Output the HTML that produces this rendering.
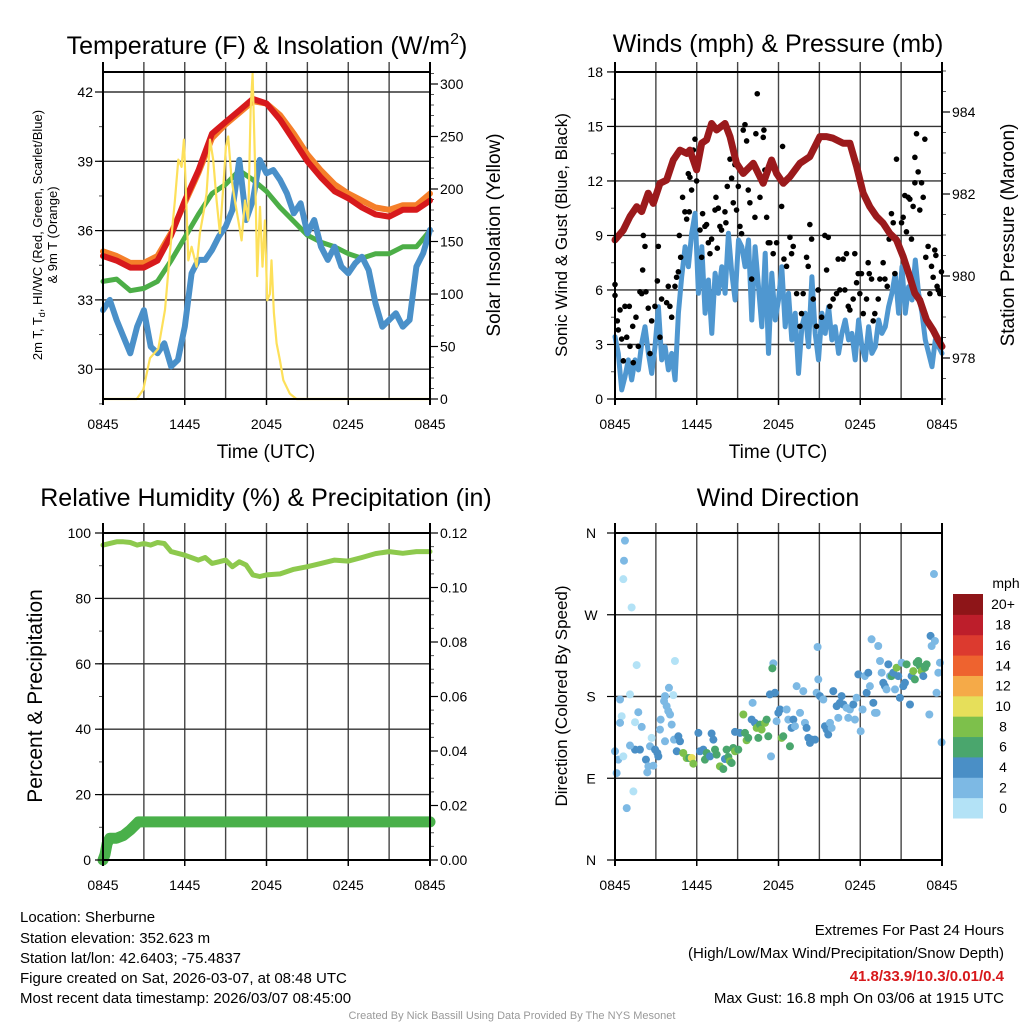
<!DOCTYPE html>
<html><head><meta charset="utf-8"><style>
html,body{margin:0;padding:0;background:#fff;}
svg{display:block;font-family:"Liberation Sans",Arial,sans-serif;}
</style></head><body>
<svg id="chart" width="1024" height="1024" viewBox="0 0 1024 1024" xmlns="http://www.w3.org/2000/svg">
<rect x="0" y="0" width="1024" height="1024" fill="#fff"/>
<text x="267" y="54" font-size="25" text-anchor="middle">Temperature (F) &amp; Insolation (W/m<tspan dy="-10" font-size="16">2</tspan><tspan dy="10">)</tspan></text>
<text x="778" y="52" font-size="25" text-anchor="middle">Winds (mph) &amp; Pressure (mb)</text>
<text x="266" y="506" font-size="25" text-anchor="middle">Relative Humidity (%) &amp; Precipitation (in)</text>
<text x="778" y="506" font-size="25" text-anchor="middle">Wind Direction</text>
<g font-size="13">
<text transform="translate(42,235) rotate(-90)" text-anchor="middle">2m T, T<tspan font-size="9" dy="3">d</tspan><tspan dy="-3">, HI/WC (Red, Green, Scarlet/Blue)</tspan></text>
<text transform="translate(57,235) rotate(-90)" text-anchor="middle">&amp; 9m T (Orange)</text>
</g>
<text transform="translate(500,235) rotate(-90)" font-size="19" text-anchor="middle">Solar Insolation (Yellow)</text>
<text transform="translate(567,235) rotate(-90)" font-size="17" text-anchor="middle">Sonic Wind &amp; Gust (Blue, Black)</text>
<text transform="translate(1014,235) rotate(-90)" font-size="19" text-anchor="middle">Station Pressure (Maroon)</text>
<text transform="translate(42,696) rotate(-90)" font-size="21" text-anchor="middle">Percent &amp; Precipitation</text>
<text transform="translate(567,696) rotate(-90)" font-size="17" text-anchor="middle">Direction (Colored By Speed)</text>
<text x="266" y="458" font-size="19" text-anchor="middle">Time (UTC)</text>
<text x="778" y="458" font-size="19" text-anchor="middle">Time (UTC)</text>
<g font-size="15">
<text x="20" y="922">Location: Sherburne</text>
<text x="20" y="943">Station elevation: 352.623 m</text>
<text x="20" y="963">Station lat/lon: 42.6403; -75.4837</text>
<text x="20" y="983">Figure created on Sat, 2026-03-07, at 08:48 UTC</text>
<text x="20" y="1003">Most recent data timestamp: 2026/03/07 08:45:00</text>
</g>
<g font-size="15" text-anchor="end">
<text x="1004" y="935">Extremes For Past 24 Hours</text>
<text x="1004" y="958">(High/Low/Max Wind/Precipitation/Snow Depth)</text>
<text x="1004" y="981" fill="#d7191c" font-weight="bold">41.8/33.9/10.3/0.01/0.4</text>
<text x="1004" y="1003">Max Gust: 16.8 mph On 03/06 at 1915 UTC</text>
</g>
<text x="512" y="1019" font-size="11" fill="#999" text-anchor="middle">Created By Nick Bassill Using Data Provided By The NYS Mesonet</text>
</svg>
<script>
// ---------- Data ----------
const xTickLabels = ["0845","1445","2045","0245","0845"];
const tempHours = [0,1,2,3,4,5,6,7,8,9,10,11,12,13,14,15,16,17,18,19,20,21,22,23,24];
const airTemp2m = [34.9,34.7,34.4,34.4,34.7,35.8,37.3,38.6,40.2,40.7,41.2,41.7,41.5,40.8,39.9,39.0,38.3,37.7,37.4,37.0,36.7,36.6,36.9,36.9,37.3];
const airTemp9m = [35.1,34.9,34.6,34.6,34.9,35.9,37.2,38.5,40.0,40.6,41.1,41.6,41.5,41.0,40.2,39.3,38.6,38.0,37.6,37.3,37.0,36.9,37.1,37.1,37.6];
const dewPoint = [33.8,33.9,33.4,33.5,33.8,34.7,35.7,36.7,37.6,38.0,38.6,38.2,37.7,37.0,36.4,35.8,35.5,35.3,35.0,34.8,35.0,35.0,35.3,35.3,36.0];
const windChill = [32.56,33.0,32.13,31.41,30.69,31.84,32.56,30.98,30.69,31.12,30.12,30.40,31.84,34.15,34.73,34.73,35.16,35.74,36.17,36.89,39.06,36.46,37.32,39.06,38.48,38.62,38.19,37.61,36.75,37.18,35.88,36.46,35.30,34.73,35.30,34.44,34.15,34.58,34.87,34.29,32.85,31.84,32.13,32.42,31.84,32.13,34.44,35.02,36.03];
const solarHours = [0,2.47,2.96,3.45,4.06,4.55,4.91,5.28,5.53,5.77,5.94,6.09,6.26,6.50,6.87,7.11,7.41,7.60,7.85,8.09,8.34,8.58,8.83,9.02,9.19,9.44,9.68,9.93,10.17,10.42,10.66,10.83,10.98,11.15,11.32,11.52,11.71,11.88,12.05,12.25,12.37,12.54,12.74,12.98,13.23,13.72,14.2,24];
const solarValues = [0,0,9,39,48,85,139,189,228,221,247,196,132,145,126,158,180,196,247,228,189,158,202,240,250,209,189,170,151,189,170,275,310,228,117,183,126,170,94,100,132,82,53,37,18,5,0,0];
const tempTicks = [30,33,36,39,42];
const solarTicks = [0,50,100,150,200,250,300];

const pressureHours = [0,0.61,1.10,1.59,1.96,2.44,2.81,3.30,3.79,4.28,4.77,5.26,5.50,5.99,6.36,6.72,7.09,7.46,8.07,8.44,8.92,9.41,10.15,10.88,11.49,11.86,12.35,12.84,13.57,14.30,15.04,15.53,16.01,16.75,17.24,17.73,18.22,18.70,19.19,19.68,20.17,20.66,21.15,21.64,22.00,22.37,22.86,23.35,23.72,24.0];
const pressureValues = [980.88,981.12,981.45,981.69,981.57,982.02,981.77,982.26,982.34,982.83,983.07,982.99,983.07,982.59,983.24,983.32,983.72,983.56,983.72,983.40,982.75,982.50,982.75,982.26,982.83,982.50,982.26,982.42,982.75,982.91,983.40,983.40,983.36,983.24,983.24,982.67,982.02,981.69,981.45,981.29,981.04,980.88,980.47,979.98,979.58,979.41,978.93,978.68,978.44,978.28];
const windSpeed = [3.43,2.51,0.50,1.23,2.15,1.05,2.15,1.60,3.06,3.98,2.51,1.41,2.88,5.08,2.15,2.88,1.60,2.51,1.05,4.72,6.73,8.38,7.28,9.12,10.22,5.82,8.38,4.72,6.55,3.61,6.92,5.82,7.28,5.82,9.12,6.92,5.45,8.75,8.38,7.28,8.75,4.35,8.38,6.18,3.98,8.02,2.51,6.92,4.35,5.45,7.28,3.98,5.82,3.25,4.72,1.41,3.98,4.72,2.88,6.73,3.61,2.15,4.72,3.61,5.08,3.25,3.98,2.51,3.61,4.35,3.25,3.61,2.15,4.35,2.88,2.15,3.98,2.51,2.88,4.35,3.61,3.98,5.08,5.82,6.92,4.72,7.28,4.72,6.18,5.45,7.65,5.82,4.72,3.25,2.51,1.78,3.25,2.88,2.51];
const gustHours = [0,0,0.17,0.24,0.37,0.49,0.61,0.73,0.86,1.05,1.10,1.30,1.34,1.54,1.71,1.83,1.96,2.03,2.08,2.20,2.27,2.44,2.57,2.69,2.93,3.11,3.18,3.30,3.42,3.79,3.91,4.03,4.16,4.40,4.52,4.65,4.72,4.82,4.96,5.13,5.26,5.38,5.45,5.50,5.62,5.75,5.87,5.99,6.24,6.36,6.43,6.60,6.72,6.85,6.97,7.09,7.34,7.41,7.51,7.58,7.70,7.82,8.07,8.14,8.24,8.44,8.56,8.68,8.80,8.92,9.05,9.17,9.29,9.41,9.54,9.66,9.78,9.90,10.03,10.27,10.34,10.44,10.64,10.88,10.93,11.00,11.13,11.25,11.37,11.61,11.86,12.23,12.30,12.40,12.59,12.84,12.96,13.08,13.33,13.57,13.69,13.81,14.06,14.18,14.30,14.43,14.55,14.79,14.91,15.16,15.40,15.53,15.65,15.77,16.01,16.26,16.38,16.50,16.75,16.87,16.99,17.12,17.24,17.48,17.60,17.73,17.85,17.97,18.09,18.22,18.46,18.58,18.66,18.83,18.95,19.07,19.32,19.44,19.68,19.81,19.98,20.12,20.29,20.42,20.54,20.66,21.03,21.15,21.27,21.39,21.52,21.64,21.76,21.88,22.01,22.01,22.13,22.25,22.37,22.50,22.62,22.74,22.81,22.98,23.11,23.23,23.35,23.47,23.55,23.64,23.72,23.84,23.96];
const gustSpeed = [6.3,5.7,4.3,3.8,4.9,3.3,2.1,5.1,3.4,5.1,2.9,4.0,2.0,4.5,2.9,5.9,5.8,7.1,9.0,8.4,5.9,5.0,2.5,4.3,5.1,6.5,8.4,3.4,5.5,5.3,6.2,5.1,4.5,6.2,6.7,7.0,9.0,7.8,11.1,10.3,9.9,12.4,10.3,12.2,11.5,13.7,14.3,12.0,9.3,7.8,10.2,9.5,9.6,8.6,8.0,8.8,10.4,11.1,8.3,10.5,9.5,9.3,10.3,9.7,11.7,13.2,12.15,10.8,12.9,10.4,11.7,9.5,9.1,14.8,15.1,14.2,11.5,10.8,6.6,10.0,14.6,16.8,11.1,14.4,14.8,12.6,10.0,8.6,8.6,8.0,8.6,10.6,13.9,7.7,7.3,8.9,8.0,8.4,5.8,4.0,4.7,5.8,7.8,7.3,9.6,8.8,5.5,4.0,6.0,4.5,9.0,7.1,8.9,5.1,5.5,5.8,7.7,6.0,7.7,6.0,8.0,5.1,4.9,5.5,8.0,6.4,6.9,5.8,6.9,4.7,5.5,7.5,6.9,6.6,4.3,4.7,5.5,6.6,7.5,6.6,6.2,8.8,10.2,9.7,6.9,13.2,9.7,10.0,11.2,9.2,11.1,11.0,8.8,10.6,13.3,11.9,14.6,12.5,10.4,11.9,11.1,14.3,7.8,8.4,5.8,7.3,6.7,8.2,7.9,6.2,6.0,5.8,7.0];
const windTicks = [0,3,6,9,12,15,18];
const pressureTicks = [978,980,982,984];

const rhHours = [0,1,1.5,2,2.5,3,3.5,4,4.5,5,6,7,7.5,8,8.5,9,9.5,10,10.5,11,11.5,12,13,14,15,16,17,18,19,20,21,22,23,24];
const rhValues = [96.3,97.3,97.3,97.1,96.3,96.8,96.3,97.1,96.8,94.3,93.2,91.7,92.5,90.7,91.2,91.7,89.7,91.2,90.2,87.2,86.7,87.2,87.5,88.9,89.7,90.7,91.7,91.4,92.5,93.7,94.3,93.8,94.3,94.3];
const precipHours = [0,0.15,0.3,0.5,1.0,1.5,2.0,2.4,2.6,24];
const precipValues = [0,0.002,0.006,0.008,0.008,0.009,0.011,0.013,0.014,0.014];
const rhTicks = [0,20,40,60,80,100];
const precipTicks = ["0.00","0.02","0.04","0.06","0.08","0.10","0.12"];

const dirHours = [0,0.24,0.12,0.37,0.49,0.61,0.37,0.73,0.66,0.61,1.22,1.10,0.86,1.35,1.59,1.71,1.96,1.47,1.10,1.47,1.83,2.27,2.45,2.37,2.57,2.69,2.94,3.11,2.81,3.18,3.35,3.30,3.60,3.67,3.79,3.91,3.96,4.04,4.28,4.16,4.40,3.67,4.33,4.65,4.53,4.77,5.01,5.26,5.45,5.63,5.75,6.12,6.24,6.48,6.60,6.73,6.97,7.09,7.22,7.34,7.46,7.70,7.95,8.07,8.19,8.32,8.44,8.56,8.68,8.81,9.05,8.81,9.17,9.42,9.54,9.66,9.78,10.03,10.10,10.27,10.40,10.52,10.64,10.76,11.01,11.13,11.25,11.37,11.45,11.62,11.55,11.74,11.86,11.99,12.11,12.23,12.35,12.60,12.72,12.84,12.96,13.09,13.21,13.33,13.58,13.82,13.94,14.06,14.19,14.31,14.43,14.68,14.80,14.92,14.87,15.04,15.29,15.41,15.53,15.65,15.78,15.90,16.02,16.27,16.39,16.51,16.63,16.76,17.00,17.12,17.24,17.49,17.61,17.73,17.86,18.03,18.17,18.34,18.47,18.59,18.71,18.83,18.96,19.08,19.20,19.32,19.45,19.57,19.69,19.81,19.93,20.06,20.18,20.30,20.42,20.55,20.67,20.79,20.91,21.04,21.16,21.28,21.40,21.65,21.77,21.89,22.01,22.14,22.26,22.38,22.50,22.63,22.75,22.87,23.07,23.16,23.24,23.41,23.48,23.60,23.73,23.85,23.97];
const dirDegrees = [119.7,110.5,95.7,176.7,158.3,114.1,151.0,351.6,329.5,309.2,278.0,182.3,57.1,75.5,214.6,162.7,146.5,121.5,126.0,151.7,121.5,110.5,103.1,96.5,125.2,134.4,121.5,117.8,103.8,114.1,154.6,143.6,174.9,180.4,169.4,163.9,189.6,160.2,181.5,149.1,219.1,130.7,132.5,136.2,119.7,130.7,117.8,112.3,112.3,112.3,106.0,139.9,119.7,121.5,110.5,117.8,114.1,139.2,132.5,121.5,116.0,103.1,100.2,111.2,121.5,113.4,108.6,106.8,123.3,119.7,121.5,141.0,139.9,160.2,139.9,131.8,134.4,154.6,173.0,151.0,145.4,134.4,149.1,143.6,151.0,154.6,136.2,182.3,114.1,216.5,211.0,184.1,152.8,162.0,165.7,134.4,136.2,165.7,154.6,125.2,145.4,154.6,147.3,191.4,162.0,185.9,151.0,145.4,134.4,128.9,132.5,132.5,184.1,198.8,234.5,180.4,176.7,147.3,143.6,138.1,151.0,145.4,185.9,169.4,156.5,173.0,180.4,171.2,167.5,156.5,165.7,171.2,154.6,178.6,204.3,141.8,165.7,202.5,184.1,206.2,191.4,243.0,173.0,162.0,162.0,235.6,219.1,206.2,195.1,191.4,187.8,215.4,202.5,202.5,206.2,187.8,211.7,202.5,178.6,217.2,191.4,195.1,215.4,171.2,202.5,208.0,198.8,217.2,219.1,213.5,208.0,202.5,211.7,215.4,160.2,246.7,235.6,314.8,241.1,184.1,206.2,217.2,129.6];
const dirSpeed = [3,3,3,3,1,1,3,3,3,1,1,1,3,1,1,3,3,5,3,1,5,5,3,3,3,1,5,5,3,5,3,3,3,3,3,3,3,3,1,3,1,3,3,5,5,5,9,9,7,11,9,5,5,5,7,7,5,5,5,7,7,9,7,5,7,7,9,7,7,9,7,5,5,9,7,9,7,5,3,5,9,7,7,9,9,7,7,5,3,3,7,5,3,5,5,9,7,3,3,7,5,5,3,3,3,3,3,5,5,5,5,5,3,3,3,5,3,5,5,5,3,3,5,5,3,5,5,5,3,3,3,5,3,3,5,3,3,3,5,5,3,3,5,3,3,3,3,3,5,5,3,5,3,7,5,3,9,5,5,3,5,5,7,5,5,9,7,7,7,7,9,5,7,7,3,5,3,3,3,3,3,3,3];
const dirTicks = ["N","W","S","E","N"];
const speedBinLabels = ["0","2","4","6","8","10","12","14","16","18","20+"];
const speedBinColors = ["#b3e2f6","#7db9e4","#4a8fc6","#4aa66d","#7dc04b","#e6df5a","#f5aa48","#ee632f","#dc3a2f","#bd1e2b","#8e1518"];

// ---------- Helpers ----------
const NS = "http://www.w3.org/2000/svg";
const svg = document.getElementById("chart");
function el(tag, attrs, parent) {
  const e = document.createElementNS(NS, tag);
  for (const k in attrs) e.setAttribute(k, attrs[k]);
  (parent || svg).appendChild(e);
  return e;
}
function pathFrom(xs, ys, xf, yf) {
  let d = "";
  for (let i = 0; i < xs.length; i++) d += (i ? "L" : "M") + xf(xs[i]).toFixed(1) + "," + yf(ys[i]).toFixed(1);
  return d;
}
function grp(name) {
  const g = el("g", {});
  
  
  return g;
}

const P1 = {x0:103, x1:430, y0:72, y1:399};
const P2 = {x0:615, x1:942, y0:72, y1:399};
const P3 = {x0:103, x1:430, y0:533, y1:860};
const P4 = {x0:615, x1:942, y0:533, y1:860};
function xAxis(P) { return h => P.x0 + h * (P.x1 - P.x0) / 24; }

const x1s = xAxis(P1), x2s = xAxis(P2), x3s = xAxis(P3), x4s = xAxis(P4);
const yTemp = v => 92 + (42 - v) * 23.1;
const ySolar = v => P1.y1 - v * 1.05;
const yWind = v => P2.y1 - v * 18.17;
const yPres = v => 358 - (v - 978) * 41;
const yRH = v => P3.y1 - v * 3.27;
const yPrecip = v => P3.y1 - v * (327 / 0.12);
const yDir = v => P4.y1 - v * (327 / 360);

function frameAndGrid(P, hLines, name) {
  const g = grp(name + "-grid");
  for (let i = 1; i < 8; i++) {
    const x = P.x0 + i * (P.x1 - P.x0) / 8;
    el("line", {x1:x, x2:x, y1:P.y0 - 10, y2:P.y1, stroke:"#444", "stroke-width":1.4}, g);
  }
  hLines.forEach(y => el("line", {x1:P.x0, x2:P.x1, y1:y, y2:y, stroke:"#333", "stroke-width":1.4}, g));
  const xl = grp(name + "-x-tick-labels");
  xTickLabels.forEach((t, i) => {
    const x = P.x0 + i * (P.x1 - P.x0) / 4;
    el("line", {x1:x, x2:x, y1:P.y1, y2:P.y1 + 6, stroke:"#000", "stroke-width":1.5}, xl);
    const tx = el("text", {x:x, y:P.y1 + 30, "font-size":14, "text-anchor":"middle"}, xl);
    tx.textContent = t;
  });
}
function frame(P, name) {
  const f = el("rect", {x:P.x0, y:P.y0, width:P.x1 - P.x0, height:P.y1 - P.y0, fill:"none", stroke:"#000", "stroke-width":2});
  
  
  el("line", {x1:P.x0, x2:P.x0, y1:P.y0 - 10, y2:P.y1 + 6, stroke:"#000", "stroke-width":2});
  el("line", {x1:P.x1, x2:P.x1, y1:P.y0 - 10, y2:P.y1 + 6, stroke:"#000", "stroke-width":2});
}
function leftTicks(P, vals, yf, labels, xoff, name) {
  const g = grp(name);
  vals.forEach((v, i) => {
    const y = yf(v);
    el("line", {x1:P.x0 - 8, x2:P.x0, y1:y, y2:y, stroke:"#000", "stroke-width":1.2}, g);
    const t = el("text", {x:P.x0 - xoff, y:y + 5, "font-size":14, "text-anchor":"end"}, g);
    t.textContent = labels[i];
  });
}
function rightTicks(P, vals, yf, labels, name) {
  const g = grp(name);
  vals.forEach((v, i) => {
    const y = yf(v);
    el("line", {x1:P.x1, x2:P.x1 + 8, y1:y, y2:y, stroke:"#000", "stroke-width":1.2}, g);
    const t = el("text", {x:P.x1 + 10, y:y + 5, "font-size":14}, g);
    t.textContent = labels[i];
  });
}
function minorTicks(x, from, to, step, yf, dir) {
  for (let v = from; v <= to + 1e-9; v += step) {
    const y = yf(v);
    el("line", {x1:x, x2:x + dir * 4, y1:y, y2:y, stroke:"#555", "stroke-width":1});
  }
}

// ---------- Panel 1 ----------
frameAndGrid(P1, tempTicks.map(yTemp), "temperature");
minorTicks(P1.x0, 28.5, 42.5, 1.5, yTemp, -1);
minorTicks(P1.x1, 0, 310, 10, ySolar, 1);
let s;
s = el("path", {d:pathFrom(tempHours, airTemp9m, x1s, yTemp), fill:"none", stroke:"#f57f2a", "stroke-width":6, "stroke-linejoin":"round", "stroke-linecap":"round"});


s = el("path", {d:pathFrom(tempHours, airTemp2m, x1s, yTemp), fill:"none", stroke:"#d7191c", "stroke-width":6, "stroke-linejoin":"round", "stroke-linecap":"round"});


s = el("path", {d:pathFrom(tempHours, dewPoint, x1s, yTemp), fill:"none", stroke:"#4cae47", "stroke-width":5, "stroke-linejoin":"round", "stroke-linecap":"round"});


s = el("path", {d:pathFrom(windChill.map((v, i) => i * 0.5), windChill, x1s, yTemp), fill:"none", stroke:"#4a90c9", "stroke-width":6, "stroke-linejoin":"round", "stroke-linecap":"round"});


s = el("path", {d:pathFrom(solarHours, solarValues, x1s, ySolar), fill:"none", stroke:"#fde05a", "stroke-width":2.2, "stroke-linejoin":"round"});


frame(P1, "temperature");
leftTicks(P1, tempTicks, yTemp, tempTicks.map(String), 10, "temperature-y-ticks");
rightTicks(P1, solarTicks, ySolar, solarTicks.map(String), "solar-y-ticks");

// ---------- Panel 2 ----------
frameAndGrid(P2, windTicks.map(yWind), "winds");
minorTicks(P2.x0, 0, 18, 1.5, yWind, -1);
minorTicks(P2.x1, 977, 985, 0.5, yPres, 1);
s = el("path", {d:pathFrom(windSpeed.map((v, i) => i * 24 / (windSpeed.length - 1)), windSpeed, x2s, yWind), fill:"none", stroke:"#4f97d0", "stroke-width":5, "stroke-linejoin":"round", "stroke-linecap":"round"});


const gustG = grp("gust-points");
gustHours.forEach((h, i) => {
  const c = el("circle", {cx:x2s(h), cy:yWind(gustSpeed[i]), r:2.8, fill:"#000"}, gustG);
  
  
});
s = el("path", {d:pathFrom(pressureHours, pressureValues, x2s, yPres), fill:"none", stroke:"#9b1a1c", "stroke-width":7, "stroke-linejoin":"round", "stroke-linecap":"round"});


frame(P2, "winds");
leftTicks(P2, windTicks, yWind, windTicks.map(String), 12, "wind-y-ticks");
rightTicks(P2, pressureTicks, yPres, pressureTicks.map(String), "pressure-y-ticks");

// ---------- Panel 3 ----------
frameAndGrid(P3, rhTicks.map(yRH), "humidity");
minorTicks(P3.x0, 0, 100, 10, yRH, -1);
minorTicks(P3.x1, 0, 0.12, 0.005, yPrecip, 1);
s = el("path", {d:pathFrom(rhHours, rhValues, x3s, yRH), fill:"none", stroke:"#8dc94d", "stroke-width":5, "stroke-linejoin":"round", "stroke-linecap":"round"});


s = el("path", {d:pathFrom(precipHours, precipValues, x3s, yPrecip), fill:"none", stroke:"#49b04a", "stroke-width":11, "stroke-linejoin":"round", "stroke-linecap":"round"});


frame(P3, "humidity");
leftTicks(P3, rhTicks, yRH, rhTicks.map(String), 12, "humidity-y-ticks");
rightTicks(P3, precipTicks.map(Number), yPrecip, precipTicks, "precip-y-ticks");

// ---------- Panel 4 ----------
frameAndGrid(P4, [0,90,180,270,360].map(yDir), "direction");
const dirG = grp("direction-points");
dirHours.forEach((h, i) => {
  const bin = Math.min(10, Math.floor(dirSpeed[i] / 2));
  const c = el("circle", {cx:x4s(h), cy:yDir(dirDegrees[i]), r:4, fill:speedBinColors[bin]}, dirG);
  
  
});
frame(P4, "direction");
const dl = grp("direction-y-ticks");
dirTicks.forEach((t, i) => {
  const y = yDir(360 - i * 90);
  el("line", {x1:P4.x0 - 8, x2:P4.x0, y1:y, y2:y, stroke:"#000", "stroke-width":1.2}, dl);
  const tx = el("text", {x:P4.x0 - 24, y:y + 5, "font-size":14, "text-anchor":"middle"}, dl);
  tx.textContent = t;
});
const cb = grp("speed-colorbar");
const cbTop = 594, cbH = 224, binH = cbH / speedBinColors.length;
speedBinColors.forEach((col, i) => {
  const y = cbTop + cbH - (i + 1) * binH;
  const r = el("rect", {x:953, y:y, width:30, height:binH + 0.5, fill:col}, cb);
  
  
  const t = el("text", {x:1003, y:y + binH / 2 + 5, "font-size":14, "text-anchor":"middle"}, cb);
  t.textContent = speedBinLabels[i];
});
const mph = el("text", {x:1006, y:588, "font-size":14, "text-anchor":"middle"}, cb);
mph.textContent = "mph";
</script>
</body></html>
